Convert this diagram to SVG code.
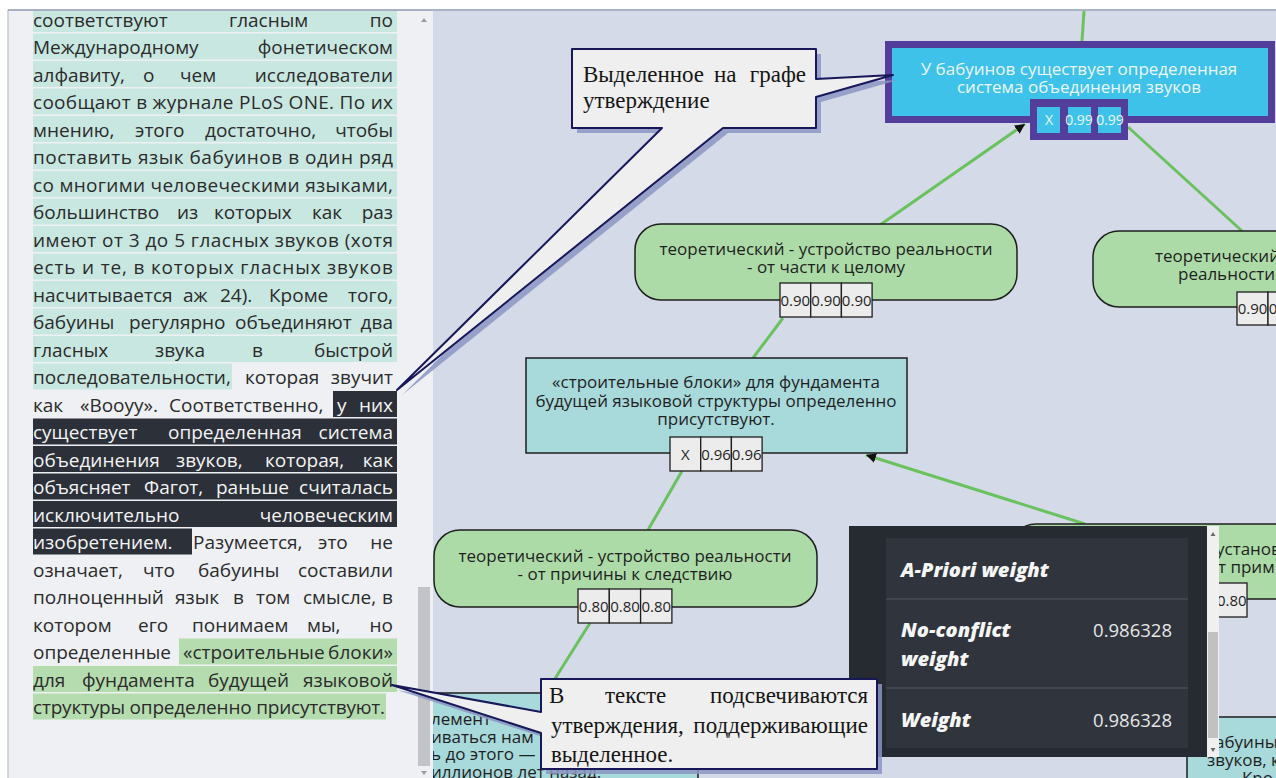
<svg xmlns="http://www.w3.org/2000/svg" width="1276" height="778" viewBox="0 0 1276 778">
<defs>
<style>
.t{font-family:"Open Sans","Noto Sans",sans-serif;font-size:19px;fill:#2b2b2b}
.e{text-anchor:end}
.w{fill:#f4f4f4}
.n{font-family:"Open Sans","Noto Sans",sans-serif;font-size:17px;fill:#1f1f1f;text-anchor:middle}
.nl{font-family:"Open Sans","Noto Sans",sans-serif;font-size:17px;fill:#1f1f1f}
.c{font-family:"Open Sans","Noto Sans",sans-serif;font-size:15px;fill:#1f1f1f;text-anchor:middle}
.cs{font-family:"Open Sans","Noto Sans",sans-serif;font-size:14px;fill:#eaf6fb;text-anchor:middle}
.cell{fill:#ececec;stroke:#1e1e1e;stroke-width:1.3}
.green{fill:#acdba8;stroke:#1e1e1e;stroke-width:1.5}
.teal{fill:#a8d9db;stroke:#1e1e1e;stroke-width:1.5}
.edge{stroke:#6ac25e;stroke-width:3;fill:none}
.hl-t{fill:#c9e7e1}
.hl-d{fill:#2c3039}
.hl-g{fill:#b5dcaf}
.co{font-family:"Liberation Serif","Times New Roman",serif;font-size:23px;fill:#151515}
.co-box{fill:#efefef;stroke:#17175a;stroke-width:2;stroke-linejoin:round}
.co-sh{fill:#8b95c3;opacity:0.85}
.tip-h{font-family:"Open Sans","Noto Sans",sans-serif;font-weight:800;font-style:italic;font-size:20px;fill:#f5f5f5}
.tip-v{font-family:"Open Sans","Noto Sans",sans-serif;font-size:18.5px;fill:#e6e6e6;text-anchor:end}
</style>
<marker id="arr" viewBox="0 0 10 10" refX="10" refY="5" markerWidth="10" markerHeight="10" markerUnits="userSpaceOnUse" orient="auto"><path d="M0,0 L10,5 L0,10 Z" fill="#111"/></marker>
<clipPath id="gclip"><rect x="433" y="11" width="843" height="767"/></clipPath>
</defs>

<!-- page background and panels -->
<rect x="0" y="0" width="1276" height="778" fill="#ffffff"/>
<rect x="8" y="10" width="425" height="768" fill="#eef0f4"/>
<line x1="8" y1="10" x2="8" y2="778" stroke="#c5cad3" stroke-width="1.5"/>
<rect x="433" y="11" width="843" height="767" fill="#d4dae8"/>
<line x1="8" y1="10" x2="1276" y2="10" stroke="#8e9ab0" stroke-width="1.5"/>

<!-- article text with highlighted statements -->
<g id="text-panel">
  <g class="hl-t">
    <rect x="33" y="11" width="364" height="21"/>
    <rect x="33" y="33.5" width="364" height="26"/>
    <rect x="33" y="61" width="364" height="26"/>
    <rect x="33" y="88.5" width="364" height="26"/>
    <rect x="33" y="116" width="364" height="26"/>
    <rect x="33" y="143.5" width="364" height="26"/>
    <rect x="33" y="171" width="364" height="26"/>
    <rect x="33" y="198.5" width="364" height="26"/>
    <rect x="33" y="226" width="364" height="26"/>
    <rect x="33" y="253.5" width="364" height="26"/>
    <rect x="33" y="281" width="364" height="26"/>
    <rect x="33" y="308.5" width="364" height="26"/>
    <rect x="33" y="336" width="364" height="26"/>
    <rect x="33" y="363.5" width="199" height="26"/>
  </g>
  <g class="hl-d">
    <rect x="333" y="391" width="64" height="26"/>
    <rect x="33" y="418.5" width="364" height="26"/>
    <rect x="33" y="446" width="364" height="26"/>
    <rect x="33" y="473.5" width="364" height="26"/>
    <rect x="33" y="501" width="364" height="26"/>
    <rect x="33" y="528.5" width="159" height="26"/>
  </g>
  <g class="hl-g">
    <rect x="179" y="638.5" width="218" height="26"/>
    <rect x="33" y="666" width="364" height="26"/>
    <rect x="33" y="693.5" width="353" height="26"/>
  </g>

  <text class="t" y="26.5"><tspan x="33">соответствуют</tspan><tspan x="229">гласным</tspan></text>
  <text class="t e" x="393" y="26.5">по</text>
  <text class="t" x="33" y="54">Международному</text>
  <text class="t e" x="393" y="54">фонетическом</text>
  <text class="t" y="81.5"><tspan x="33">алфавиту,</tspan><tspan x="143">о</tspan><tspan x="180">чем</tspan></text>
  <text class="t e" x="393" y="81.5">исследователи</text>
  <text class="t" x="33" y="109" textLength="360" lengthAdjust="spacing">сообщают в журнале PLoS ONE. По их</text>
  <text class="t" y="136.5"><tspan x="33">мнению,</tspan><tspan x="135">этого</tspan><tspan x="205">достаточно,</tspan></text>
  <text class="t e" x="393" y="136.5">чтобы</text>
  <text class="t" x="33" y="164" textLength="360" lengthAdjust="spacing">поставить язык бабуинов в один ряд</text>
  <text class="t" x="33" y="191.5" textLength="360" lengthAdjust="spacing">со многими человеческими языками,</text>
  <text class="t" y="219"><tspan x="33">большинство</tspan><tspan x="177">из</tspan><tspan x="214">которых</tspan><tspan x="312">как</tspan></text>
  <text class="t e" x="393" y="219">раз</text>
  <text class="t" x="33" y="246.5" textLength="360" lengthAdjust="spacing">имеют от 3 до 5 гласных звуков (хотя</text>
  <text class="t" x="33" y="274" textLength="360" lengthAdjust="spacing">есть и те, в которых гласных звуков</text>
  <text class="t" y="301.5"><tspan x="33">насчитывается</tspan><tspan x="183">аж</tspan><tspan x="220">24).</tspan><tspan x="269">Кроме</tspan></text>
  <text class="t e" x="393" y="301.5">того,</text>
  <text class="t" y="329"><tspan x="33">бабуины</tspan><tspan x="129">регулярно</tspan><tspan x="235">объединяют</tspan></text>
  <text class="t e" x="393" y="329">два</text>
  <text class="t" y="356.5"><tspan x="33">гласных</tspan><tspan x="155">звука</tspan><tspan x="252">в</tspan></text>
  <text class="t e" x="393" y="356.5">быстрой</text>
  <text class="t" y="384"><tspan x="33">последовательности,</tspan><tspan x="245">которая</tspan></text>
  <text class="t e" x="393" y="384">звучит</text>
  <text class="t" y="411.5"><tspan x="33">как</tspan><tspan x="80">«Вооуу».</tspan><tspan x="169">Соответственно,</tspan><tspan x="337" class="w">у</tspan></text>
  <text class="t e w" x="393" y="411.5">них</text>
  <text class="t w" y="439"><tspan x="33">существует</tspan><tspan x="168">определенная</tspan></text>
  <text class="t e w" x="393" y="439">система</text>
  <text class="t w" y="466.5"><tspan x="33">объединения</tspan><tspan x="176">звуков,</tspan><tspan x="265">которая,</tspan></text>
  <text class="t e w" x="393" y="466.5">как</text>
  <text class="t w" y="494"><tspan x="33">объясняет</tspan><tspan x="144">Фагот,</tspan><tspan x="216">раньше</tspan></text>
  <text class="t e w" x="393" y="494">считалась</text>
  <text class="t w" x="33" y="521.5">исключительно</text>
  <text class="t e w" x="393" y="521.5">человеческим</text>
  <text class="t" y="549"><tspan x="33" class="w">изобретением.</tspan><tspan x="193">Разумеется,</tspan><tspan x="318">это</tspan></text>
  <text class="t e" x="393" y="549">не</text>
  <text class="t" y="576.5"><tspan x="33">означает,</tspan><tspan x="143">что</tspan><tspan x="198">бабуины</tspan></text>
  <text class="t e" x="393" y="576.5">составили</text>
  <text class="t" y="604"><tspan x="33">полноценный</tspan><tspan x="175">язык</tspan><tspan x="233">в</tspan><tspan x="256">том</tspan><tspan x="303">смысле,</tspan></text>
  <text class="t e" x="393" y="604">в</text>
  <text class="t" y="631.5"><tspan x="33">котором</tspan><tspan x="138">его</tspan><tspan x="192">понимаем</tspan><tspan x="307">мы,</tspan></text>
  <text class="t e" x="393" y="631.5">но</text>
  <text class="t" y="659"><tspan x="33">определенные</tspan><tspan x="183">«строительные</tspan></text>
  <text class="t e" x="393" y="659">блоки»</text>
  <text class="t" y="686.5"><tspan x="33">для</tspan><tspan x="82">фундамента</tspan><tspan x="208">будущей</tspan></text>
  <text class="t e" x="393" y="686.5">языковой</text>
  <text class="t" x="33" y="714" textLength="352" lengthAdjust="spacing">структуры определенно присутствуют.</text>
</g>

<!-- text panel scrollbar -->
<g id="text-scrollbar">
  <rect x="418" y="587" width="12" height="179" fill="#c3c4c9"/>
  <path d="M421,22 L424,18 L427,22 Z" fill="#9a9ca3"/>
  <path d="M421,771 L424,775 L427,771 Z" fill="#9a9ca3"/>
</g>

<g clip-path="url(#gclip)">
  <!-- connectors -->
  <g id="edges">
    <path class="edge" d="M1084,11 L1082,41"/>
    <path class="edge" d="M880,225 L1025,124" marker-end="url(#arr)"/>
    <path class="edge" d="M1128,127 L1242,231"/>
    <path class="edge" d="M783,318 L753,358"/>
    <path class="edge" d="M1085,524 L866,455" marker-end="url(#arr)"/>
    <path class="edge" d="M682,471 L648,530"/>
    <path class="edge" d="M590,623 L546,693"/>
  </g>

  <!-- selected statement -->
  <g id="node-selected">
    <rect x="888.5" y="44.5" width="383" height="75" fill="#3ec2e9" stroke="#533f9b" stroke-width="7"/>
    <text class="n" x="1079" y="75" style="fill:#eaf6fb">У бабуинов существует определенная</text>
    <text class="n" x="1079" y="93" style="fill:#eaf6fb">система объединения звуков</text>
    <rect x="1030" y="99" width="98" height="41" fill="#533f9b"/>
    <rect x="1037" y="107" width="23" height="26" fill="#3ec2e9"/>
    <rect x="1068" y="107" width="23" height="26" fill="#3ec2e9"/>
    <rect x="1098" y="107" width="23" height="26" fill="#3ec2e9"/>
    <text class="cs" x="1049" y="125">X</text>
    <text class="cs" x="1079" y="125">0.99</text>
    <text class="cs" x="1110" y="125">0.99</text>
  </g>

  <g id="node-part-whole">
    <rect class="green" x="635" y="224" width="382" height="76" rx="26"/>
    <text class="n" x="826" y="255">теоретический - устройство реальности</text>
    <text class="n" x="826" y="273">- от части к целому</text>
    <rect class="cell" x="780" y="283" width="30.7" height="34"/>
    <rect class="cell" x="810.7" y="283" width="30.7" height="34"/>
    <rect class="cell" x="841.4" y="283" width="30.7" height="34"/>
    <text class="c" x="795.3" y="306">0.90</text>
    <text class="c" x="826" y="306">0.90</text>
    <text class="c" x="856.7" y="306">0.90</text>
  </g>

  <g id="node-right-top">
    <rect class="green" x="1093" y="231" width="382" height="76" rx="26"/>
    <text class="nl" x="1155" y="262">теоретический</text>
    <text class="nl" x="1178" y="280">реальности</text>
    <rect class="cell" x="1237" y="292" width="31" height="33"/>
    <rect class="cell" x="1268" y="292" width="31" height="33"/>
    <text class="c" x="1252.5" y="314">0.90</text>
    <text class="c" x="1283.5" y="314">0.90</text>
  </g>

  <g id="node-blocks">
    <rect class="teal" x="526" y="358" width="381" height="95"/>
    <text class="n" x="716" y="388">«строительные блоки» для фундамента</text>
    <text class="n" x="716" y="407">будущей языковой структуры определенно</text>
    <text class="n" x="716" y="425">присутствуют.</text>
    <rect class="cell" x="670" y="437" width="30.7" height="34"/>
    <rect class="cell" x="700.7" y="437" width="30.7" height="34"/>
    <rect class="cell" x="731.4" y="437" width="30.7" height="34"/>
    <text class="c" x="685.3" y="460">X</text>
    <text class="c" x="716" y="460">0.96</text>
    <text class="c" x="746.7" y="460">0.96</text>
  </g>

  <g id="node-cause-effect">
    <rect class="green" x="434" y="530" width="383" height="77" rx="26"/>
    <text class="n" x="625" y="562">теоретический - устройство реальности</text>
    <text class="n" x="625" y="580">- от причины к следствию</text>
    <rect class="cell" x="578" y="589" width="31.3" height="34"/>
    <rect class="cell" x="609.3" y="589" width="31.3" height="34"/>
    <rect class="cell" x="640.6" y="589" width="31.3" height="34"/>
    <text class="c" x="593.7" y="612">0.80</text>
    <text class="c" x="625" y="612">0.80</text>
    <text class="c" x="656.3" y="612">0.80</text>
  </g>

  <g id="node-right-mid">
    <rect class="green" x="1010" y="524" width="382" height="75" rx="26"/>
    <text class="nl" x="1216" y="555">установ</text>
    <text class="nl" x="1218" y="573">т прим</text>
    <rect class="cell" x="1155" y="583" width="31" height="34"/>
    <rect class="cell" x="1186" y="583" width="30.5" height="34"/>
    <rect class="cell" x="1216.5" y="583" width="30.5" height="34"/>
    <text class="c" x="1170.5" y="606">0.80</text>
    <text class="c" x="1201" y="606">0.80</text>
    <text class="c" x="1231.8" y="606">0.80</text>
  </g>

  <g id="node-bottom-left">
    <rect class="teal" x="420" y="693" width="278" height="110"/>
    <text class="nl" x="431" y="725">лемент</text>
    <text class="nl" x="431" y="742.5">иваться нам</text>
    <text class="nl" x="431" y="760">ь до этого —</text>
    <text class="nl" x="431" y="777.5">иллионов лет назад.</text>
  </g>

  <g id="node-bottom-right">
    <rect class="teal" x="1187" y="717" width="300" height="100"/>
    <text class="nl" x="1215" y="748">абуины</text>
    <text class="nl" x="1207" y="766">звуков, к</text>
    <text class="nl" x="1242" y="784">Кро</text>
  </g>

  <!-- weight tooltip -->
  <g id="weight-tooltip">
    <rect x="849" y="526" width="358" height="231" fill="#262a31"/>
    <rect x="1207" y="526" width="12" height="231" fill="#f0f0f0"/>
    <rect x="1208" y="632" width="10" height="106" fill="#c1c1c1"/>
    <path d="M1210.5,536 L1213,532 L1215.5,536 Z" fill="#6a6a6a"/>
    <path d="M1210.5,748 L1213,752 L1215.5,748 Z" fill="#6a6a6a"/>
    <rect x="886" y="538" width="302" height="210" fill="#30353d"/>
    <line x1="886" y1="599" x2="1188" y2="599" stroke="#3f454e" stroke-width="2"/>
    <line x1="886" y1="688" x2="1188" y2="688" stroke="#3f454e" stroke-width="2"/>
    <text class="tip-h" x="901" y="577">A-Priori weight</text>
    <text class="tip-h" x="901" y="637">No-conflict</text>
    <text class="tip-h" x="901" y="666">weight</text>
    <text class="tip-v" x="1172" y="637">0.986328</text>
    <text class="tip-h" x="901" y="727">Weight</text>
    <text class="tip-v" x="1172" y="727">0.986328</text>
  </g>
</g>

<!-- callout: selected statement -->
<g id="callout-selected">
  <path class="co-sh" transform="translate(5,5)" d="M572,49 H816 V79 L893,75 L816,97 V128 H723 L397,390 L662,128 H572 Z"/>
  <path class="co-box" d="M572,49 H816 V79 L893,75 L816,97 V128 H723 L397,390 L662,128 H572 Z"/>
  <text class="co" y="82"><tspan x="583">Выделенное</tspan><tspan x="714">на</tspan></text>
  <text class="co e" x="806" y="82">графе</text>
  <text class="co" x="583" y="108">утверждение</text>
</g>

<!-- callout: supporting statements -->
<g id="callout-support">
  <path class="co-sh" transform="translate(5,5)" d="M541,679 H877 V769 H541 V733 L392,685 L541,712 Z"/>
  <path class="co-box" d="M541,679 H877 V769 H541 V733 L392,685 L541,712 Z"/>
  <text class="co" y="703"><tspan x="549">В</tspan><tspan x="605">тексте</tspan></text>
  <text class="co e" x="868" y="703">подсвечиваются</text>
  <text class="co" x="551" y="733">утверждения,</text>
  <text class="co e" x="868" y="733">поддерживающие</text>
  <text class="co" x="551" y="762">выделенное.</text>
</g>
</svg>
